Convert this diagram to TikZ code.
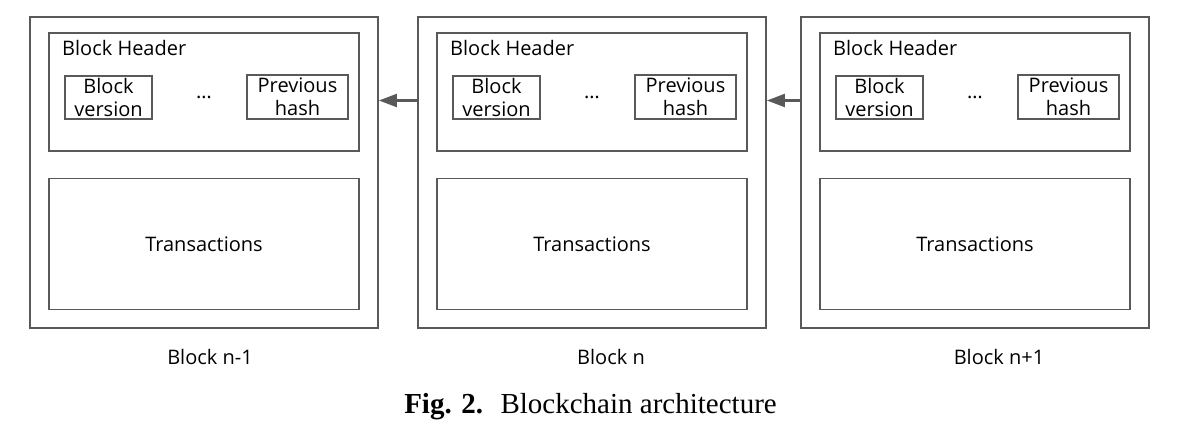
\documentclass[tikz,border=0pt]{standalone}
\usepackage{fontspec}
\setmainfont{Liberation Serif}
\newfontfamily\boxfont{Open Sans}
\usetikzlibrary{arrows.meta}

\begin{document}
\begin{tikzpicture}[x=1pt, y=-1pt,
  box/.style={draw=black!65, line width=1.8pt, inner sep=0pt},
  txt/.style={font=\boxfont\fontsize{20}{23.5}\selectfont, text=black, align=center, inner sep=0pt},
  link/.style={draw=black!65, line width=2.2pt, -{Triangle[length=18pt,width=13pt]}}]

\useasboundingbox (0,0) rectangle (1177,436);

\foreach \X/\nm/\lx/\lab in {30/a/180/Block n-1, 418/b/193/Block n, 801/c/198/Block n+1} {
  \node [box, minimum width=348pt, minimum height=311pt] (\nm) at (\X+174,172.5) {};
  \node [box, minimum width=310pt, minimum height=118pt] (\nm-head) at (\X+174,92) {};
  \node [txt, anchor=west] (\nm-title) at (\X+32,48) {Block Header};
  \node [box, txt, minimum width=87pt, minimum height=43pt] (\nm-ver) at (\X+78.5,97.5) {Block\\version};
  \node [txt] (\nm-dots) at (\X+174,97) {\dots};
  \node [box, txt, minimum width=101pt, minimum height=44pt] (\nm-prev) at (\X+267.5,97) {Previous\\hash};
  \node [box, txt, minimum width=310pt, minimum height=131pt] (\nm-tx) at (\X+174,244) {Transactions};
  \node [txt] (\nm-lab) at (\X+\lx,357) {\lab};
}

% chain
\draw [link] ([yshift=72pt]b.west) -- ([yshift=72pt]a.east);
\draw [link] ([yshift=72pt]c.west) -- ([yshift=72pt]b.east);

\node [font=\fontsize{29}{32}\selectfont] (caption) at (590.5,407) {\textbf{Fig. 2.}\hspace{0.6em}Blockchain architecture};

\end{tikzpicture}
\end{document}
